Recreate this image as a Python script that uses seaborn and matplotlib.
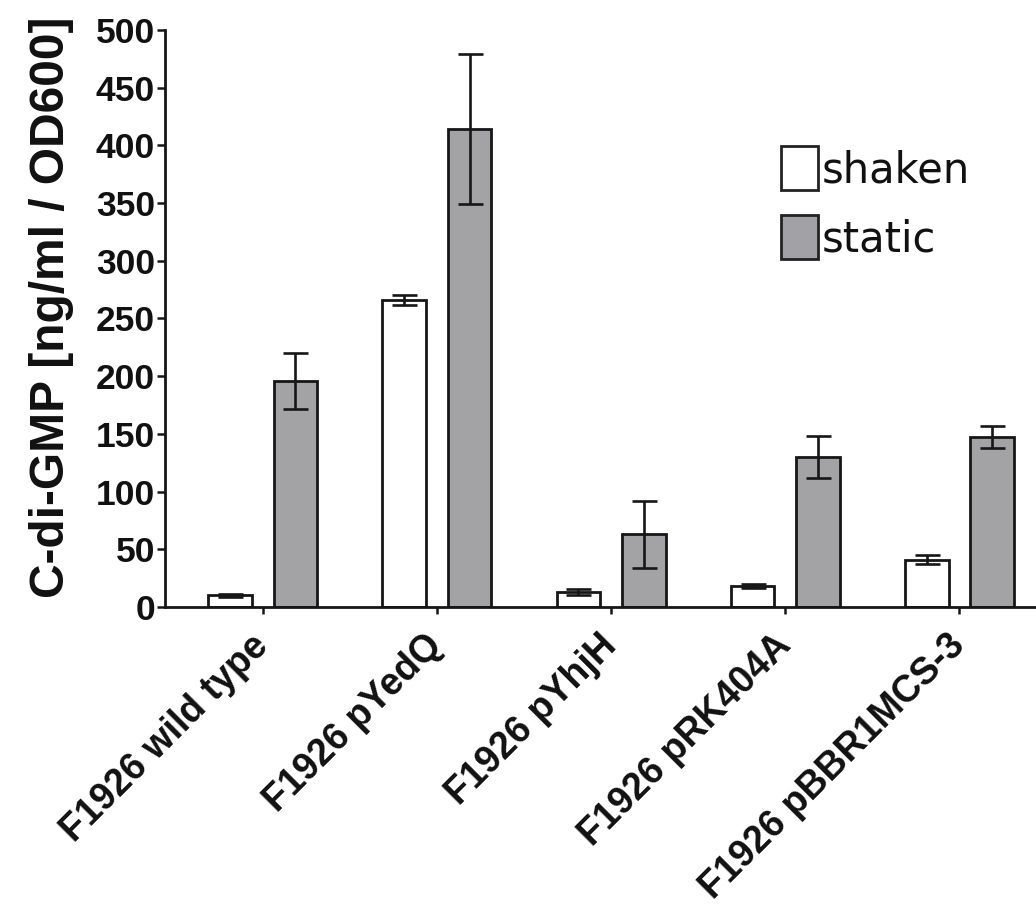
import matplotlib
matplotlib.use("Agg")
import matplotlib.pyplot as plt
from matplotlib.patches import Patch
import seaborn as sns
import pandas as pd

# ---- data ----
strains = ["F1926 wild type", "F1926 pYedQ", "F1926 pYhjH", "F1926 pRK404A", "F1926 pBBR1MCS-3"]
conditions = ["shaken", "static"]
shaken_mean = [10, 266, 13, 18, 41]
shaken_err = [1, 4, 2.6, 1.5, 3.7]
static_mean = [196, 414, 63, 130, 147]
static_err = [24, 65, 29, 18, 9.5]
y_ticks = [0, 50, 100, 150, 200, 250, 300, 350, 400, 450, 500]
y_label = "C-di-GMP [ng/ml / OD600]"

bar_colors = {"shaken": "#ffffff", "static": "#a2a2a6"}
edge = "#161616"

sns.set_theme(style="ticks")
plt.rcParams["font.family"] = ["Liberation Sans", "DejaVu Sans"]

df = pd.DataFrame({
    "strain": strains * 2,
    "condition": ["shaken"] * len(strains) + ["static"] * len(strains),
    "value": shaken_mean + static_mean,
})

fig = plt.figure(figsize=(10.36, 9.10), dpi=100)
ax = fig.add_axes([0.159, 0.333, 0.841, 0.634])

sns.barplot(data=df, x="strain", y="value", hue="condition",
            order=strains, hue_order=conditions, palette=bar_colors,
            width=0.75, gap=0.33, errorbar=None, edgecolor=edge,
            linewidth=2.0, ax=ax, legend=False)

for cont, means, errs in zip(ax.containers, [shaken_mean, static_mean], [shaken_err, static_err]):
    xs = [b.get_x() + b.get_width() / 2 for b in cont]
    ax.errorbar(xs, means, yerr=errs, fmt="none", ecolor=edge,
                elinewidth=1.9, capsize=9, capthick=1.9, zorder=5)

ax.set_xlim(-0.563, 4.44)
ax.set_ylim(0, 500)
ax.set_yticks(y_ticks)
ax.set_yticklabels([str(t) for t in y_ticks], fontsize=25.5, fontweight="bold", color="#111111")
ax.set_xticks(range(len(strains)))
ax.set_xticklabels(strains, rotation=45, ha="right", va="center", rotation_mode="anchor",
                   fontsize=27, fontweight="bold", color="#111111")
ax.set_xlabel("")
ax.set_ylabel(y_label, fontsize=34.5, fontweight="bold", color="#111111")
ax.yaxis.set_label_coords(-0.104, 0.52)

ax.tick_params(axis="y", length=6, width=1.8, pad=1, color=edge)
ax.tick_params(axis="x", length=5, width=1.8, pad=19, color=edge)
for s in ["top", "right"]:
    ax.spines[s].set_visible(False)
for s in ["left", "bottom"]:
    ax.spines[s].set_linewidth(2.0)
    ax.spines[s].set_color(edge)

handles = [Patch(facecolor=bar_colors[c], edgecolor="#222222", linewidth=2.0) for c in conditions]
leg = ax.legend(handles, conditions, loc="upper left",
                bbox_to_anchor=(781 / 1036, 1 - 146 / 910), bbox_transform=fig.transFigure,
                frameon=False, prop={"family": "DejaVu Sans", "size": 30},
                handlelength=0.89, handleheight=1.25,
                handletextpad=0.08, labelspacing=0.58, borderpad=0, borderaxespad=0)
for t in leg.get_texts():
    t.set_color("#111111")

fig.savefig("out.png", dpi=100)
